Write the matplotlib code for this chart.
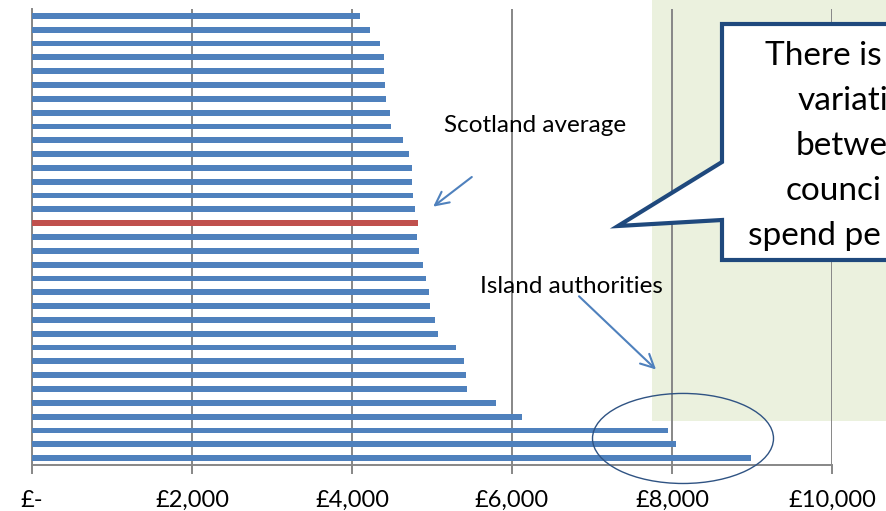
import numpy as np
import matplotlib.pyplot as plt
from matplotlib.patches import Rectangle, Ellipse, Polygon
from matplotlib.ticker import FuncFormatter

plt.rcParams['font.family'] = ['Lato', 'DejaVu Sans']

# spend per pupil by council, top to bottom (Scotland average in red)
spend = [4100, 4225, 4350, 4396, 4404, 4408, 4425, 4475, 4488, 4638,
         4713, 4750, 4750, 4763, 4788, 4825, 4817, 4838, 4888, 4929,
         4963, 4979, 5038, 5071, 5304, 5404, 5421, 5438, 5796, 6125,
         7954, 8050, 8988]
is_average = [False] * 15 + [True] + [False] * 17
x_ticks = [0, 2000, 4000, 6000, 8000, 10000]

W, H = 887, 511
fig = plt.figure(figsize=(W / 100, H / 100), dpi=100)
ax = fig.add_axes([32 / W, 1 - 465 / H, 800 / W, 456 / H])
ax.set_facecolor('none')


def px(x, y):
    # pixel position -> figure fraction
    return (x / W, 1 - y / H)


# shaded panel behind the chart
fig.patches.append(Rectangle(px(652, 421), (W - 652) / W, 421 / H,
                             transform=fig.transFigure, facecolor='#EBF1DE',
                             edgecolor='none', zorder=-1))

colors = ['#C0504D' if a else '#4F81BD' for a in is_average]
ypos = np.arange(len(spend))
ax.barh(ypos, spend, height=0.42, color=colors, zorder=3)

ax.set_xlim(0, 10000)
ax.set_ylim(len(spend) - 0.5, -0.5)
ax.set_xticks(x_ticks)
ax.xaxis.set_major_formatter(FuncFormatter(lambda v, p: '£-' if v == 0 else f'£{v:,.0f}'))
ax.set_yticks([])
ax.grid(True, axis='x', color='#878787', linewidth=1.4, zorder=1)
for s in ['top', 'right']:
    ax.spines[s].set_visible(False)
for s in ['left', 'bottom']:
    ax.spines[s].set_color('#878787')
    ax.spines[s].set_linewidth(1.4)
ax.tick_params(axis='x', length=6.5, width=1.4, color='#878787',
               labelsize=17, pad=11.5)


# annotations in data coordinates
def d(x, y):
    return ((x - 32) * 12.5, (y - 15.7) / 13.81)


ax.text(*d(535, 125), 'Scotland average', fontsize=17.5, ha='center', va='center')
ax.annotate('', xy=d(431, 208), xytext=d(474, 175),
            arrowprops=dict(arrowstyle='->', color='#4F81BD', lw=1.5,
                            mutation_scale=24))
ax.text(*d(571, 286), 'Island authorities', fontsize=17.5, ha='center', va='center')
ax.annotate('', xy=d(658, 371), xytext=d(577, 294),
            arrowprops=dict(arrowstyle='->', color='#4F81BD', lw=1.5,
                            mutation_scale=24))
ax.add_patch(Ellipse(d(683, 438), 181 * 12.5, 90 / 13.81, fill=False,
                     edgecolor='#2F5383', linewidth=1.0, zorder=4,
                     clip_on=False))

# speech bubble callout (runs off the right edge, as in the original)
bubble = [px(722, 24), px(1000, 24), px(1000, 260), px(722, 260),
          px(722, 220), px(618, 226), px(722, 162)]
fig.patches.append(Polygon(bubble, closed=True, transform=fig.transFigure,
                           facecolor='white', edgecolor='#1F497D',
                           linewidth=3, joinstyle='miter', zorder=5))
lines = [('There is', 765, 65), ('variati', 798, 110),
         ('betwe', 796, 155), ('counci', 786, 200),
         ('spend pe', 748, 245)]
for txt, x, y in lines:
    fig.text(*px(x, y), txt, fontsize=24, ha='left', va='baseline', zorder=6)

fig.savefig('out.png', dpi=100)
